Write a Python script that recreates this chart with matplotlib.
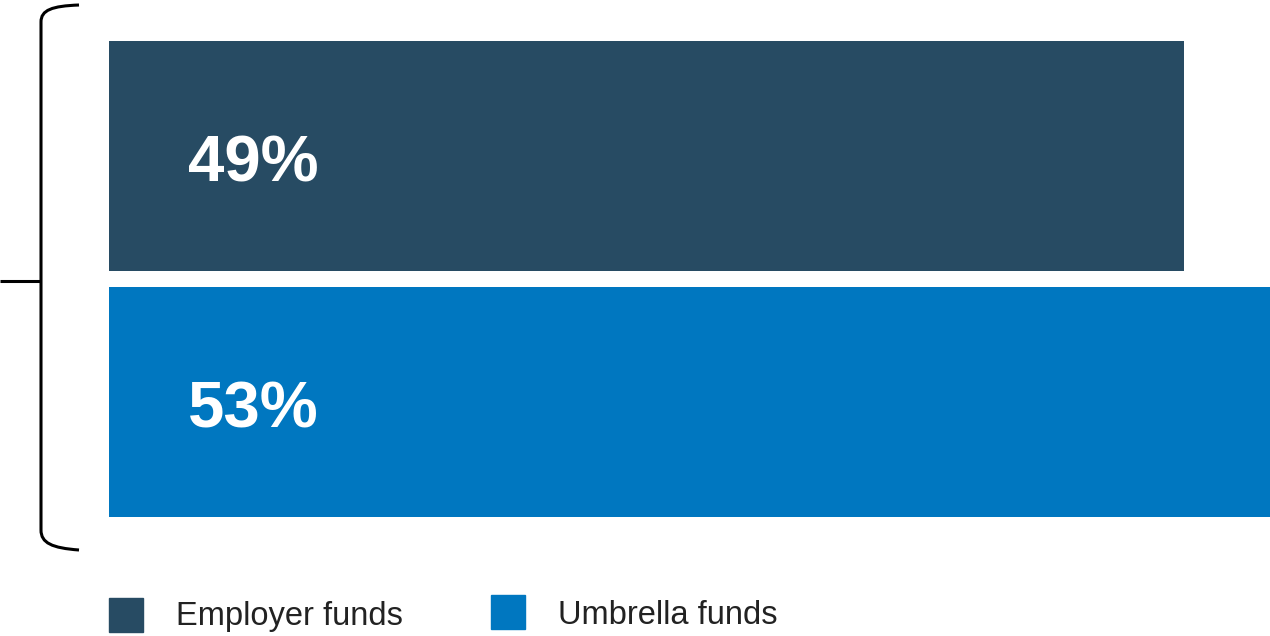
import matplotlib.pyplot as plt
from matplotlib.path import Path
from matplotlib.patches import PathPatch, Rectangle

plt.rcParams['font.family'] = ['Liberation Sans', 'DejaVu Sans']

series = ['Employer funds', 'Umbrella funds']
shares = [49, 53]
colors = ['#274b63', '#0077c0']

W, H = 1270, 636
fig = plt.figure(figsize=(W / 100, H / 100), dpi=100)

# bar area: left edge at 109px, bars from y=41 to y=517
ax = fig.add_axes([109 / W, 1 - 525 / H, 1 - 109 / W, (525 - 33) / H])
ypos = [0, 1]
ax.barh(ypos, shares, height=0.935, color=colors)
ax.set_xlim(0, 52.9)
ax.set_ylim(1.5, -0.5)
ax.axis('off')
for y, v in zip(ypos, shares):
    ax.text(3.6, y + 0.035, f'{v}%', color='white', fontsize=47,
            fontweight='bold', va='center', ha='left')

# overlay in pixel units for the brace and legend
ov = fig.add_axes([0, 0, 1, 1])
ov.set_xlim(0, W)
ov.set_ylim(H, 0)
ov.axis('off')

verts = [(79, 5), (52, 6), (41, 10), (41, 22),
         (41, 530),
         (41, 543), (52, 548), (79, 550)]
codes = [Path.MOVETO, Path.CURVE4, Path.CURVE4, Path.CURVE4,
         Path.LINETO,
         Path.CURVE4, Path.CURVE4, Path.CURVE4]
ov.add_patch(PathPatch(Path(verts, codes), fill=False, lw=2.2, ec='black',
                       capstyle='butt'))
ov.plot([0, 41], [281, 281], color='black', lw=2.2, solid_capstyle='butt')

# legend
legend_x = [109, 491]
legend_y = [598, 595]
for name, c, lx, ly in zip(series, colors, legend_x, legend_y):
    ov.add_patch(Rectangle((lx, ly), 34, 34, color=c))
    ov.text(lx + 67, 616, name, fontsize=23.5, color='#222222',
            va='center', ha='left')

fig.savefig('out.png', dpi=100)
